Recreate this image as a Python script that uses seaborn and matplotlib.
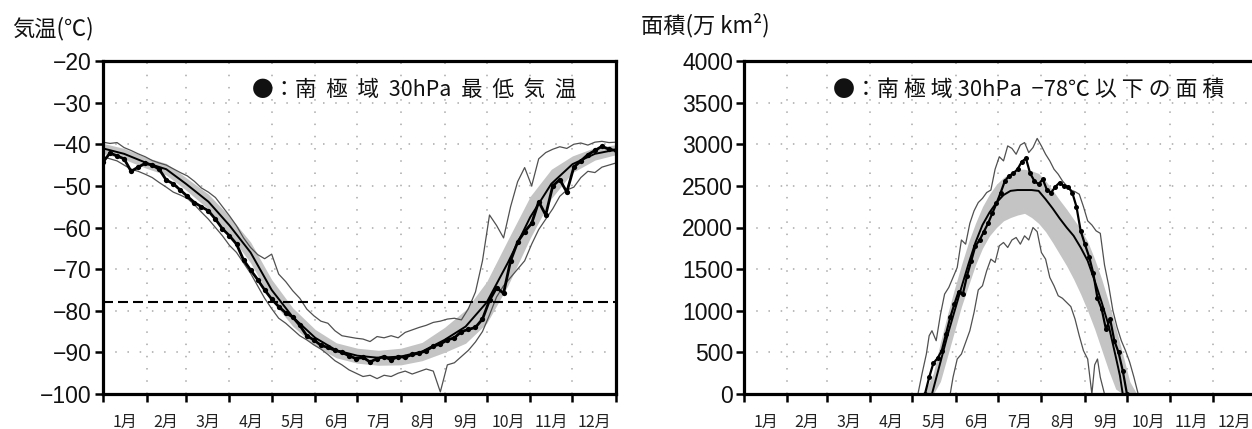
import numpy as np
import pandas as pd
import matplotlib
matplotlib.use("Agg")
import matplotlib.pyplot as plt
import seaborn as sns

# ---------------- data ----------------
month_starts = [0, 31, 59, 90, 120, 151, 181, 212, 243, 273, 304, 334, 365]
month_labels = ["1月", "2月", "3月", "4月", "5月", "6月", "7月", "8月", "9月", "10月", "11月", "12月"]

# Left panel: 30hPa minimum temperature (deg C)
t_days5 = list(range(0, 366, 5))
t_max = [-39.5, -39.8, -39.6, -40.8, -41.5, -42.3, -43.0, -43.9, -44.5, -45.0,
         -45.9, -46.8, -47.6, -48.9, -50.5, -51.5, -52.8, -55.0, -57.2, -59.6,
         -62.5, -64.8, -66.5, -67.5, -66.4, -71.2, -73.0, -75.2, -77.0, -79.6,
         -81.2, -82.5, -83.0, -84.8, -86.0, -86.3, -86.6, -86.8, -87.4, -86.2,
         -86.5, -86.0, -86.5, -85.2, -84.6, -84.0, -83.5, -82.8, -82.5, -82.0,
         -81.8, -82.2, -79.5, -75.5, -68.0, -57.0, -59.5, -62.5, -55.0, -49.0,
         -45.6, -50.0, -43.5, -42.0, -41.2, -40.6, -41.0, -40.0, -39.7, -40.2,
         -39.5, -39.3, -39.6, -39.5]
t_min = [-43.0, -43.5, -44.0, -45.0, -46.0, -46.5, -47.2, -48.0, -49.2, -50.3,
         -51.5, -52.2, -53.0, -54.5, -56.3, -58.0, -60.0, -62.0, -64.3, -66.0,
         -68.5, -71.0, -74.0, -77.0, -79.5, -81.8, -83.0, -84.5, -86.0, -87.0,
         -88.2, -89.2, -90.5, -92.0, -93.0, -94.2, -95.0, -95.8, -95.5, -96.3,
         -95.5, -95.8, -95.0, -94.5, -95.2, -94.6, -94.0, -94.5, -99.5, -93.0,
         -92.5, -91.0, -89.5, -87.5, -85.0, -81.0, -76.7, -74.0, -72.0, -70.0,
         -68.0, -64.0, -60.5, -58.0, -55.5, -52.5, -51.0, -50.3, -48.0, -46.5,
         -46.8, -45.5, -45.0, -44.5]
t_obs = [-44.3, -42.1, -42.8, -43.5, -46.5, -45.5, -44.6, -45.0, -46.0, -48.6,
         -49.5, -51.0, -52.5, -54.0, -55.0, -56.0, -58.0, -60.3, -62.0, -64.0,
         -67.8, -70.2, -72.5, -75.0, -77.2, -79.0, -80.5, -81.5, -83.5, -86.0,
         -87.0, -88.3, -88.8, -89.5, -90.0, -90.8, -91.5, -91.2, -92.3, -91.5,
         -91.0, -91.8, -91.0, -91.2, -90.5, -90.2, -89.6, -88.5, -88.0, -87.0,
         -86.5, -85.0, -84.5, -84.0, -82.0, -77.5, -74.5, -75.8, -68.0, -63.5,
         -61.0, -59.0, -53.8, -57.0, -50.0, -48.5, -51.5, -45.5, -44.0, -42.5,
         -41.5, -40.5, -41.2, -41.5]
t_cdays = [0, 15, 31, 45, 59, 75, 90, 105, 120, 135, 151, 166, 181, 196, 212,
           227, 243, 258, 273, 288, 304, 319, 334, 350, 365]
t_mean = [-41.0, -42.3, -44.5, -46.0, -49.5, -53.8, -59.5, -66.0, -75.0, -81.5,
          -86.5, -89.5, -90.8, -91.3, -91.0, -89.8, -87.0, -83.8, -78.0, -68.5,
          -57.5, -49.5, -44.8, -42.3, -41.3]
t_lo = [-42.2, -43.6, -45.8, -47.4, -51.0, -55.6, -61.7, -68.5, -77.5, -83.7,
        -88.5, -91.3, -92.6, -93.1, -93.0, -92.0, -90.0, -87.8, -83.0, -74.0,
        -62.5, -53.0, -46.8, -43.8, -42.5]
t_hi = [-39.8, -41.0, -43.2, -44.6, -48.0, -52.0, -57.3, -63.5, -72.5, -79.3,
        -84.5, -87.7, -89.0, -89.5, -89.0, -87.6, -84.0, -79.8, -73.0, -63.0,
        -52.5, -46.0, -42.8, -40.8, -40.1]
threshold = -78
t_yticks = [-100, -90, -80, -70, -60, -50, -40, -30, -20]

# Right panel: area below -78 C (10^4 km2)
a_obs_days = list(range(129, 274, 3))
a_obs = [0, 200, 370, 430, 520, 720, 920, 1080, 1230, 1200, 1420, 1600, 1780,
         1850, 1950, 2050, 2170, 2290, 2420, 2560, 2620, 2650, 2700, 2790, 2830,
         2650, 2560, 2520, 2580, 2450, 2420, 2490, 2540, 2500, 2490, 2420, 2250,
         1960, 1800, 1650, 1450, 1150, 1020, 780, 900, 640, 500, 280, 0]
a_mean_days = [134, 140, 145, 150, 155, 160, 165, 170, 175, 180, 185, 190, 195,
               200, 205, 210, 215, 220, 225, 230, 235, 240, 245, 250, 255, 260,
               265, 268, 270]
a_mean = [0, 380, 700, 990, 1280, 1560, 1820, 2030, 2180, 2300, 2390, 2440, 2450,
          2450, 2450, 2440, 2340, 2230, 2110, 2000, 1900, 1760, 1600, 1360, 1100,
          820, 450, 220, 0]
a_band_days = [128, 135, 140, 145, 150, 155, 160, 165, 170, 175, 180, 185, 190,
               195, 200, 205, 210, 215, 220, 225, 230, 235, 240, 245, 250, 255,
               260, 265, 270, 275, 280]
a_hi = [0, 250, 620, 950, 1260, 1550, 1820, 2050, 2250, 2400, 2520, 2600, 2660,
        2700, 2700, 2680, 2650, 2560, 2450, 2330, 2220, 2100, 1980, 1830, 1620,
        1380, 1100, 800, 480, 150, 0]
a_lo = [0, 0, 150, 450, 750, 1050, 1300, 1550, 1750, 1900, 2000, 2080, 2120,
        2150, 2170, 2120, 2050, 1950, 1820, 1680, 1540, 1380, 1200, 1000, 780,
        530, 280, 60, 0, 0, 0]
a_max_days = [124, 127, 130, 132, 134, 137, 140, 143, 146, 149, 152, 155, 158,
              161, 164, 167, 170, 173, 176, 179, 182, 185, 188, 191, 194, 197,
              200, 203, 206, 209, 212, 215, 218, 221, 224, 227, 230, 233, 236,
              239, 242, 245, 248, 251, 254, 257, 260, 263, 266, 269, 272, 275,
              278, 281]
a_max = [0, 250, 480, 700, 760, 640, 950, 1200, 1280, 1400, 1520, 1850, 1800,
         2050, 2200, 2300, 2350, 2420, 2450, 2700, 2850, 2800, 2980, 2950, 2880,
         2990, 3020, 2900, 2960, 3070, 2980, 2880, 2800, 2700, 2640, 2560, 2500,
         2450, 2430, 2400, 2250, 2080, 2030, 1960, 1930, 1550, 1300, 1000, 800,
         640, 520, 380, 200, 0]
a_min_days = [147, 149, 152, 155, 158, 161, 164, 167, 170, 173, 176, 179, 182,
              185, 188, 191, 194, 197, 200, 203, 206, 209, 212, 215, 218, 221,
              224, 227, 230, 233, 236, 239, 242, 245, 248, 250, 252, 254, 257]
a_min = [0, 200, 420, 480, 620, 760, 980, 1250, 1300, 1480, 1620, 1580, 1780,
         1820, 1760, 1850, 1880, 1800, 1900, 1850, 2000, 1950, 1700, 1620, 1400,
         1300, 1180, 1150, 1100, 1050, 900, 700, 520, 420, 0, 350, 420, 200, 0]
a_yticks = [0, 500, 1000, 1500, 2000, 2500, 3000, 3500, 4000]

# ---------------- drawing ----------------
sns.set_theme(style="white")
plt.rcParams["font.family"] = ["Noto Sans CJK JP", "DejaVu Sans"]
plt.rcParams["axes.unicode_minus"] = True

W, H = 1252, 429
fig = plt.figure(figsize=(W / 100, H / 100), dpi=100)
ax1 = fig.add_axes([103 / W, 35 / H, 513 / W, 333 / H])
ax2 = fig.add_axes([744 / W, 35 / H, 512 / W, 333 / H])

mids = [(a + b) / 2 for a, b in zip(month_starts[:-1], month_starts[1:])]
grid_style = dict(color="#a8a8a8", linestyle=(0, (1, 7)), linewidth=1.1)


def style(ax, ylim, yticks):
    ax.set_xlim(0, 365)
    ax.set_ylim(*ylim)
    ax.set_xticks(month_starts)
    ax.set_xticklabels([])
    ax.set_xticks(mids, minor=True)
    ax.set_xticklabels(month_labels, minor=True)
    ylabels = [str(v).replace("-", "\u2212") for v in yticks]
    ax.set_yticks(yticks, labels=ylabels, fontfamily=["Liberation Sans", "DejaVu Sans"],
                  fontsize=16.5, color="#111111")
    ax.tick_params(axis="x", which="major", direction="out", length=6, width=1.8,
                   bottom=True, color="black")
    ax.tick_params(axis="x", which="minor", length=0, pad=14, labelsize=11.5,
                   labelcolor="#222222")
    ax.tick_params(axis="y", which="major", direction="out", length=6, width=1.8,
                   left=True, pad=2, color="black")
    for s in ax.spines.values():
        s.set_linewidth(2.3)
        s.set_color("black")
    ax.grid(True, which="major", **grid_style)
    ax.set_axisbelow(True)
    ax.set_xlabel("")
    ax.set_ylabel("")


# Left panel
ax1.fill_between(t_cdays, t_lo, t_hi, color="#c4c4c4", linewidth=0, zorder=1)
sns.lineplot(x=t_days5, y=t_max, ax=ax1, color="#505050", linewidth=0.9, zorder=2)
sns.lineplot(x=t_days5, y=t_min, ax=ax1, color="#505050", linewidth=0.9, zorder=2)
sns.lineplot(x=t_cdays, y=t_mean, ax=ax1, color="black", linewidth=1.4, zorder=3)
sns.lineplot(x=t_days5, y=t_obs, ax=ax1, color="black", linewidth=2.0, marker="o",
             markersize=3.8, markeredgewidth=0, zorder=4)
ax1.axhline(threshold, color="black", linewidth=1.5, linestyle=(0, (4.8, 2.4)), zorder=5)
style(ax1, (-100, -20), t_yticks)

# Right panel
ax2.fill_between(a_band_days, a_lo, a_hi, color="#c4c4c4", linewidth=0, zorder=1)
sns.lineplot(x=a_max_days, y=a_max, ax=ax2, color="#505050", linewidth=0.9, zorder=2)
sns.lineplot(x=a_min_days, y=a_min, ax=ax2, color="#505050", linewidth=0.9, zorder=2)
sns.lineplot(x=a_mean_days, y=a_mean, ax=ax2, color="black", linewidth=1.4, zorder=3)
sns.lineplot(x=a_obs_days, y=a_obs, ax=ax2, color="black", linewidth=1.6, marker="o",
             markersize=3.6, markeredgewidth=0, zorder=4)
style(ax2, (0, 4000), a_yticks)

# Titles / legends
fig.text(12 / W, 1 - 29 / H, "気温(℃)", fontsize=16, ha="left", va="center", color="#111111")
fig.text(641 / W, 1 - 25 / H, "面積(万 km²)", fontsize=16, ha="left", va="center", color="#111111")
fig.text(252 / W, 1 - 90 / H, "●：南  極  域  30hPa  最  低  気  温", fontsize=15.5,
         ha="left", va="center", color="#111111")
fig.text(833 / W, 1 - 90 / H, "●：南 極 域 30hPa  −78℃ 以 下 の 面 積", fontsize=15.8,
         ha="left", va="center", color="#111111")

fig.savefig("out.png", dpi=100)
